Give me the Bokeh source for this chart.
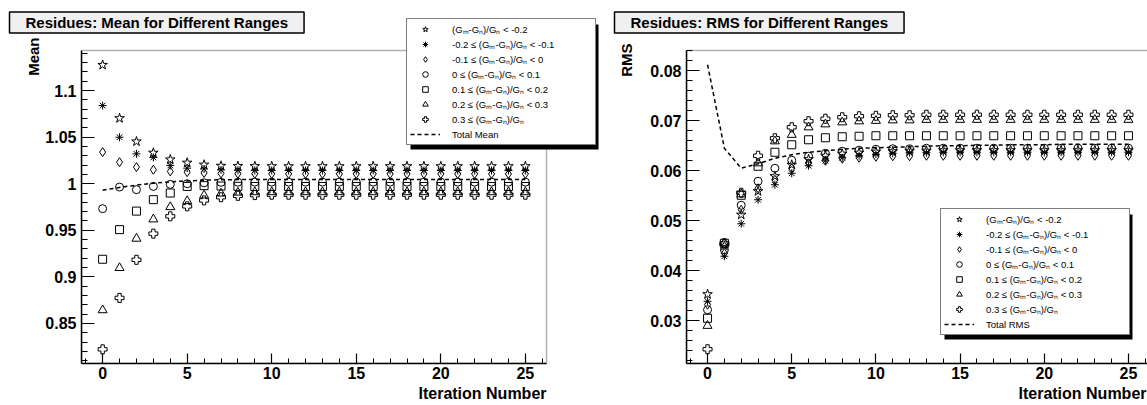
from bokeh.plotting import figure
from bokeh.models import (Range1d, FixedTicker, Legend, LegendItem, Title, CustomJSTickFormatter,
                          BoxAnnotation)
from bokeh.layouts import row
from bokeh.embed import file_html
from bokeh.resources import INLINE

iterations = [0, 1, 2, 3, 4, 5, 6, 7, 8, 9, 10, 11, 12, 13, 14, 15, 16, 17, 18, 19, 20, 21, 22, 23, 24, 25]

range_labels = [
    "(G\u2098-G\u2099)/G\u2099 < -0.2",
    "-0.2 \u2264 (G\u2098-G\u2099)/G\u2099 < -0.1",
    "-0.1 \u2264 (G\u2098-G\u2099)/G\u2099 < 0",
    "0 \u2264 (G\u2098-G\u2099)/G\u2099 < 0.1",
    "0.1 \u2264 (G\u2098-G\u2099)/G\u2099 < 0.2",
    "0.2 \u2264 (G\u2098-G\u2099)/G\u2099 < 0.3",
    "0.3 \u2264 (G\u2098-G\u2099)/G\u2099",
]

# ---- Mean panel values ----
mean_r1 = [1.1275, 1.0703, 1.0453, 1.0332, 1.0260, 1.0225, 1.0204, 1.0192, 1.0189, 1.0188, 1.0187, 1.0187, 1.0187,
           1.0187, 1.0187, 1.0187, 1.0187, 1.0187, 1.0187, 1.0187, 1.0187, 1.0187, 1.0187, 1.0187, 1.0187, 1.0187]
mean_r2 = [1.0839, 1.0499, 1.0321, 1.0282, 1.0196, 1.0167, 1.0158, 1.0148, 1.0145, 1.0143, 1.0142, 1.0142, 1.0142,
           1.0142, 1.0142, 1.0142, 1.0142, 1.0142, 1.0142, 1.0142, 1.0142, 1.0142, 1.0142, 1.0142, 1.0142, 1.0142]
mean_r3 = [1.0339, 1.0231, 1.0178, 1.0150, 1.0132, 1.0124, 1.0116, 1.0110, 1.0107, 1.0106, 1.0105, 1.0105, 1.0105,
           1.0105, 1.0105, 1.0105, 1.0105, 1.0105, 1.0105, 1.0105, 1.0105, 1.0105, 1.0105, 1.0105, 1.0105, 1.0105]
mean_r4 = [0.9732, 0.9964, 0.9936, 0.9971, 0.9993, 1.0000, 1.0010, 1.0015, 1.0016, 1.0017, 1.0017, 1.0017, 1.0017,
           1.0017, 1.0017, 1.0017, 1.0017, 1.0017, 1.0017, 1.0017, 1.0017, 1.0017, 1.0017, 1.0017, 1.0017, 1.0017]
mean_r5 = [0.9189, 0.9507, 0.9706, 0.9829, 0.9900, 0.9971, 0.9979, 0.9975, 0.9972, 0.9970, 0.9970, 0.9970, 0.9970,
           0.9970, 0.9970, 0.9970, 0.9970, 0.9970, 0.9970, 0.9970, 0.9970, 0.9970, 0.9970, 0.9970, 0.9970, 0.9970]
mean_r6 = [0.8643, 0.9096, 0.9411, 0.9618, 0.9750, 0.9814, 0.9875, 0.9895, 0.9905, 0.9910, 0.9910, 0.9910, 0.9910,
           0.9910, 0.9910, 0.9910, 0.9910, 0.9910, 0.9910, 0.9910, 0.9910, 0.9910, 0.9910, 0.9910, 0.9910, 0.9910]
mean_r7 = [0.8222, 0.8774, 0.9183, 0.9464, 0.9650, 0.9757, 0.9821, 0.9855, 0.9870, 0.9878, 0.9882, 0.9882, 0.9882,
           0.9882, 0.9882, 0.9882, 0.9882, 0.9882, 0.9882, 0.9882, 0.9882, 0.9882, 0.9882, 0.9882, 0.9882, 0.9882]
total_mean = [0.9930, 0.9960, 0.9985, 1.0005, 1.0020, 1.0030, 1.0038, 1.0042, 1.0044, 1.0045, 1.0045, 1.0045, 1.0045,
              1.0045, 1.0045, 1.0045, 1.0045, 1.0045, 1.0045, 1.0045, 1.0045, 1.0045, 1.0045, 1.0045, 1.0045, 1.0045]

# ---- RMS panel values ----
rms_r1 = [0.0353, 0.0450, 0.0512, 0.0559, 0.0589, 0.0612, 0.0623, 0.0630, 0.0634, 0.0636, 0.0638, 0.0639, 0.0640,
          0.0640, 0.0641, 0.0641, 0.0641, 0.0641, 0.0641, 0.0641, 0.0641, 0.0641, 0.0641, 0.0641, 0.0641, 0.0641]
rms_r2 = [0.0339, 0.0429, 0.0494, 0.0542, 0.0572, 0.0595, 0.0610, 0.0620, 0.0626, 0.0630, 0.0633, 0.0635, 0.0636,
          0.0636, 0.0637, 0.0637, 0.0637, 0.0637, 0.0637, 0.0637, 0.0637, 0.0637, 0.0637, 0.0637, 0.0637, 0.0637]
rms_r3 = [0.0332, 0.0435, 0.0522, 0.0565, 0.0582, 0.0605, 0.0615, 0.0620, 0.0624, 0.0626, 0.0628, 0.0629, 0.0629,
          0.0630, 0.0630, 0.0630, 0.0630, 0.0630, 0.0630, 0.0630, 0.0630, 0.0630, 0.0630, 0.0630, 0.0630, 0.0630]
rms_r4 = [0.0322, 0.0442, 0.0531, 0.0579, 0.0605, 0.0621, 0.0629, 0.0635, 0.0639, 0.0641, 0.0643, 0.0644, 0.0644,
          0.0645, 0.0645, 0.0645, 0.0645, 0.0645, 0.0645, 0.0645, 0.0645, 0.0645, 0.0645, 0.0645, 0.0645, 0.0645]
rms_r5 = [0.0305, 0.0455, 0.0551, 0.0609, 0.0637, 0.0652, 0.0662, 0.0666, 0.0668, 0.0669, 0.0670, 0.0670, 0.0670,
          0.0670, 0.0670, 0.0670, 0.0670, 0.0670, 0.0670, 0.0670, 0.0670, 0.0670, 0.0670, 0.0670, 0.0670, 0.0670]
rms_r6 = [0.0290, 0.0455, 0.0553, 0.0615, 0.0659, 0.0672, 0.0687, 0.0693, 0.0697, 0.0699, 0.0700, 0.0701, 0.0701,
          0.0702, 0.0702, 0.0702, 0.0702, 0.0702, 0.0702, 0.0702, 0.0702, 0.0702, 0.0702, 0.0702, 0.0702, 0.0702]
rms_r7 = [0.0243, 0.0455, 0.0556, 0.0630, 0.0665, 0.0687, 0.0699, 0.0704, 0.0707, 0.0709, 0.0710, 0.0711, 0.0711,
          0.0712, 0.0712, 0.0712, 0.0712, 0.0712, 0.0712, 0.0712, 0.0712, 0.0712, 0.0712, 0.0712, 0.0712, 0.0712]
total_rms = [0.0812, 0.0645, 0.0605, 0.0614, 0.0625, 0.0632, 0.0637, 0.0640, 0.0643, 0.0645, 0.0646, 0.0647, 0.0648,
             0.0649, 0.0650, 0.0650, 0.0651, 0.0651, 0.0652, 0.0652, 0.0652, 0.0653, 0.0653, 0.0653, 0.0653, 0.0653]

x_ticks = [0, 5, 10, 15, 20, 25]
x_tick_labels = ["0", "5", "10", "15", "20", "25"]
x_minor = [-1, 0, 1, 2, 3, 4, 5, 6, 7, 8, 9, 10, 11, 12, 13, 14, 15, 16, 17, 18, 19, 20, 21, 22, 23, 24, 25, 26]
mean_ticks = [0.85, 0.9, 0.95, 1.0, 1.05, 1.1]
mean_tick_labels = ["0.85", "0.9", "0.95", "1", "1.05", "1.1"]
mean_minor = [0.81, 0.82, 0.83, 0.84, 0.85, 0.86, 0.87, 0.88, 0.89, 0.9, 0.91, 0.92, 0.93, 0.94, 0.95, 0.96, 0.97,
              0.98, 0.99, 1.0, 1.01, 1.02, 1.03, 1.04, 1.05, 1.06, 1.07, 1.08, 1.09, 1.1, 1.11, 1.12, 1.13, 1.14]
rms_ticks = [0.03, 0.04, 0.05, 0.06, 0.07, 0.08]
rms_tick_labels = ["0.03", "0.04", "0.05", "0.06", "0.07", "0.08"]
rms_minor = [0.022, 0.024, 0.026, 0.028, 0.03, 0.032, 0.034, 0.036, 0.038, 0.04, 0.042, 0.044, 0.046, 0.048, 0.05,
             0.052, 0.054, 0.056, 0.058, 0.06, 0.062, 0.064, 0.066, 0.068, 0.07, 0.072, 0.074, 0.076, 0.078, 0.08,
             0.082, 0.084]

markers = ["star", "asterisk", "diamond", "circle", "square", "triangle", "plus"]
marker_sizes = [10, 8, 9, 8, 8, 9, 9]

FONT = "Liberation Sans"
X_LO, X_HI = -1.25, 26.25

# legend geometry (pixels)
LEG_PAD, LEG_GLYPH_W, LEG_STANDOFF, LEG_LABEL_W = 3, 30, 12, 140
LEG_ROW, LEG_SPACING = 14, 1
LEG_W = 2 * LEG_PAD + LEG_GLYPH_W + LEG_STANDOFF + LEG_LABEL_W
LEG_H = 2 * LEG_PAD + 8 * LEG_ROW + 7 * LEG_SPACING
SHADOW = 4

FMT_CODE = """
let best = 0;
for (let i = 0; i < tv.length; i++) {
  if (Math.abs(tv[i] - tick) < Math.abs(tv[best] - tick)) best = i;
}
return tl[best];
"""


def make_panel(width, mb_left, x_end, box_lo, box_hi, y_end, series, total, total_label,
               title_text, y_title, y_title_offset, y_title_standoff, x_title_offset,
               y_ticks, y_labels, y_minor, legend_loc):
    p = figure(width=width, height=405, x_range=Range1d(X_LO, x_end), y_range=Range1d(box_lo, y_end),
               output_backend="svg", toolbar_location=None,
               min_border_left=mb_left, min_border_right=0, min_border_top=14, min_border_bottom=42)
    p.grid.visible = False
    p.outline_line_color = None
    p.background_fill_color = "white"
    p.border_fill_color = "white"

    for ax in (p.xaxis[0], p.yaxis[0]):
        ax.axis_line_width = 1.5
        ax.axis_line_color = "black"
        ax.major_tick_out = 0
        ax.minor_tick_out = 0
        ax.major_tick_line_color = "black"
        ax.minor_tick_line_color = "black"
        ax.major_tick_line_width = 1.2
        ax.minor_tick_line_width = 1
        ax.major_label_text_font = FONT
        ax.major_label_text_font_style = "bold"
        ax.major_label_text_font_size = "16px"
        ax.major_label_text_color = "black"
    p.xaxis[0].bounds = (X_LO, X_HI)
    p.yaxis[0].bounds = (box_lo, box_hi)
    p.xaxis[0].major_tick_in = 10
    p.xaxis[0].minor_tick_in = 5
    p.yaxis[0].major_tick_in = 13
    p.yaxis[0].minor_tick_in = 6
    p.xaxis[0].major_label_standoff = 3
    p.yaxis[0].major_label_standoff = 5
    p.xaxis[0].ticker = FixedTicker(ticks=x_ticks, minor_ticks=x_minor)
    p.yaxis[0].ticker = FixedTicker(ticks=y_ticks, minor_ticks=y_minor)
    p.xaxis[0].formatter = CustomJSTickFormatter(args=dict(tv=x_ticks, tl=x_tick_labels), code=FMT_CODE)
    p.yaxis[0].formatter = CustomJSTickFormatter(args=dict(tv=y_ticks, tl=y_labels), code=FMT_CODE)

    # visible plot box (the data region's frame)
    p.add_layout(BoxAnnotation(left=X_LO, right=X_HI, bottom=box_lo, top=box_hi,
                               fill_color=None, fill_alpha=0, line_color="black", line_width=1.5))

    # drop shadow of the legend box (same frame-relative screen units as the legend location)
    lx, ly = legend_loc
    p.add_layout(BoxAnnotation(left=lx + SHADOW, right=lx + LEG_W + SHADOW,
                               bottom=ly - SHADOW, top=ly + LEG_H - SHADOW,
                               left_units="screen", right_units="screen",
                               bottom_units="screen", top_units="screen",
                               fill_color="black", fill_alpha=1.0, line_color=None))

    items = []
    for vals, m, s, lab in zip(series, markers, marker_sizes, range_labels):
        r = p.scatter(iterations, vals, marker=m, size=s, line_color="black", fill_color=None, line_width=1)
        items.append(LegendItem(label=lab, renderers=[r]))
    rl = p.line(iterations, total, line_dash="4 3", line_color="black", line_width=1.5)
    items.append(LegendItem(label=total_label, renderers=[rl]))

    leg = Legend(items=items, location=legend_loc, orientation="vertical",
                 border_line_color="black", border_line_width=1.5,
                 background_fill_color="white", background_fill_alpha=1.0,
                 label_text_font=FONT, label_text_font_size="9.5px", label_text_color="black",
                 glyph_width=LEG_GLYPH_W, glyph_height=LEG_ROW, label_height=LEG_ROW, spacing=LEG_SPACING,
                 padding=LEG_PAD, margin=0, label_standoff=LEG_STANDOFF, label_width=LEG_LABEL_W)
    leg.level = "overlay"
    p.add_layout(leg)

    t = Title(text=title_text, align="left", offset=-72, text_font=FONT, text_font_style="bold",
              text_font_size="15px", text_color="black", background_fill_color="#f0f0f0",
              border_line_color="black", border_line_width=1.5)
    try:
        t.standoff = -37
    except Exception:
        t.standoff = 0
    try:
        t.padding = (16, 2)
    except Exception:
        try:
            t.padding = 3
        except Exception:
            pass
    p.add_layout(t, "above")

    xt = Title(text="Iteration Number", align="right", offset=x_title_offset, text_font=FONT,
               text_font_style="bold", text_font_size="16px", text_color="black", standoff=2)
    p.add_layout(xt, "below")
    yt = Title(text=y_title, align="right", vertical_align="middle", offset=y_title_offset,
               text_font=FONT, text_font_style="bold", text_font_size="15px", text_color="black",
               standoff=y_title_standoff)
    p.add_layout(yt, "left")
    return p


# Frames are extended to the top (and the left one to the right) so that the legends, which overhang
# the data box in the original, are not clipped; the data box itself is drawn with a BoxAnnotation.
p1 = make_panel(604, 81, 29.68, 0.807, 1.143, 1.18165,
                [mean_r1, mean_r2, mean_r3, mean_r4, mean_r5, mean_r6, mean_r7], total_mean, "Total Mean",
                "Residues: Mean for Different Ranges", "Mean", 23, 0, 58,
                mean_ticks, mean_tick_labels, mean_minor, (325, 218))
p2 = make_panel(543, 80, 26.13, 0.02145, 0.08405, 0.09125,
                [rms_r1, rms_r2, rms_r3, rms_r4, rms_r5, rms_r6, rms_r7], total_rms, "Total RMS",
                "Residues: RMS for Different Ranges", "RMS", 29, 24, 1,
                rms_ticks, rms_tick_labels, rms_minor, (254, 28))

layout = row(p1, p2, spacing=0)
open("out.html", "w").write(file_html(layout, INLINE))
